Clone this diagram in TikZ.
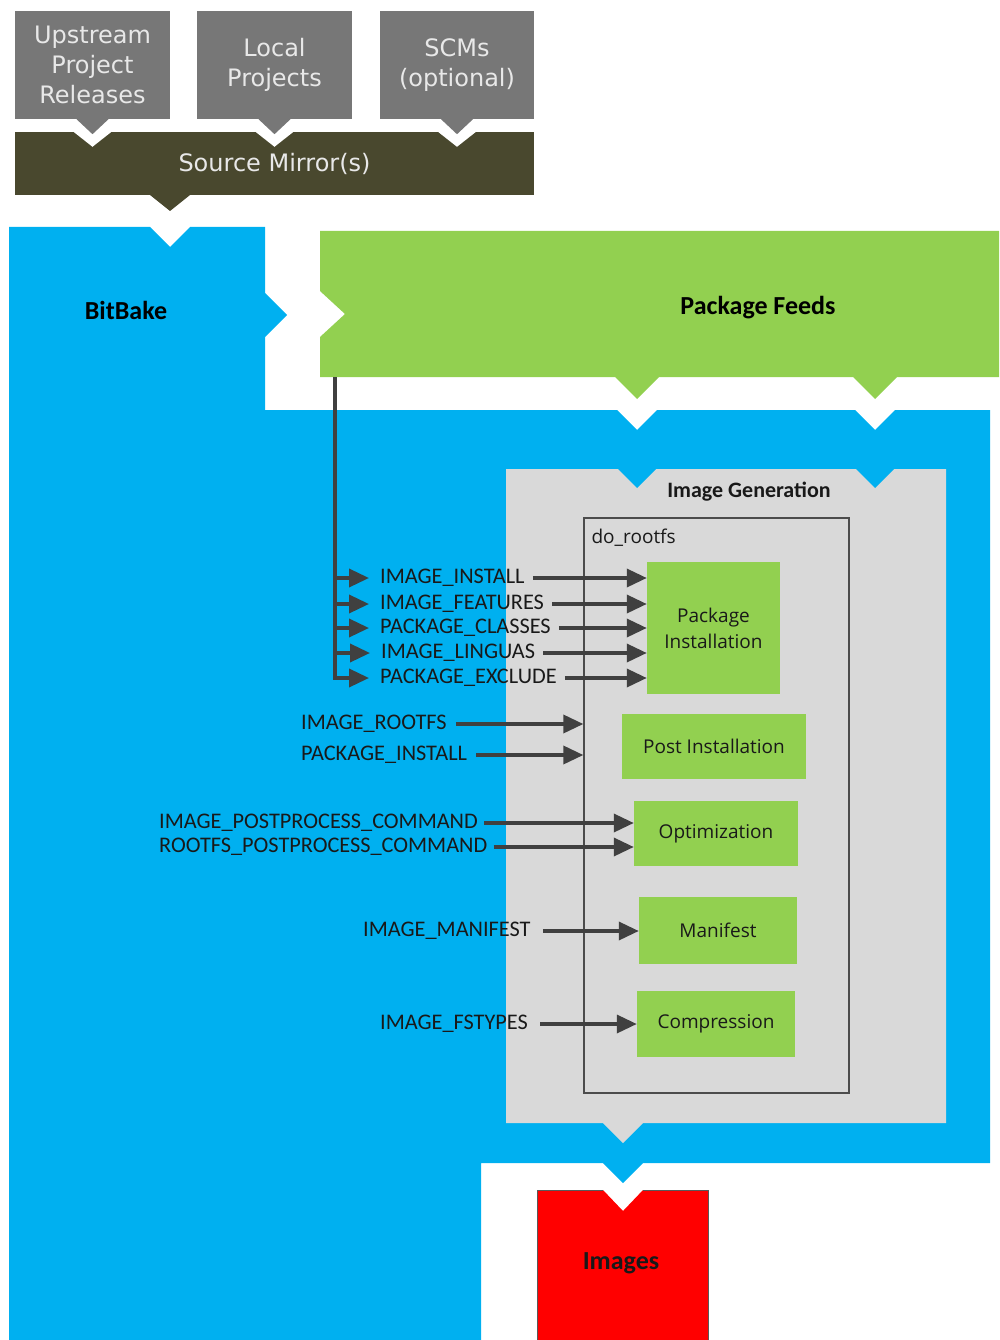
\documentclass[tikz,border=0pt]{standalone}
\usepackage{fontspec}
\setmainfont{Carlito}
\newfontfamily\topfont{DejaVu Sans}
\newfontfamily\taskfont{Open Sans}
\usetikzlibrary{arrows.meta}
\definecolor{srcgray}{RGB}{119,119,119}
\definecolor{mirror}{RGB}{73,72,46}
\definecolor{bbblue}{RGB}{0,176,240}
\definecolor{feedgreen}{RGB}{146,208,80}
\definecolor{gengray}{RGB}{217,217,217}
\definecolor{arrowgray}{RGB}{64,64,64}
\definecolor{softwhite}{RGB}{232,232,232}
\begin{document}
\begin{tikzpicture}[x=1pt, y=-1pt,
        srcbox/.style={rectangle, fill=srcgray, minimum width=155pt, minimum height=108pt, align=center, text=softwhite, font=\topfont\fontsize{24}{30}\selectfont},
        taskbox/.style={rectangle, fill=feedgreen, align=center, text=black!90, font=\taskfont\fontsize{19}{26}\selectfont},
        varlabel/.style={anchor=west, inner xsep=0pt, inner ysep=1pt, text=black!90, font=\fontsize{22.3}{24}\selectfont},
        headline/.style={font=\bfseries\fontsize{26}{30}\selectfont},
        varrow/.style={-{Triangle[length=20pt,width=18pt]}, line width=3.5pt, draw=arrowgray}
    ]
        \useasboundingbox (0,0) rectangle (999,1340);

        % BitBake area
        \fill[bbblue] (9,227) -- (150,227) -- (170,247) -- (190,227) -- (265,227) -- (265,293) -- (287,315) -- (265,337)
            -- (265,410) -- (617,410) -- (637,430) -- (657,410) -- (855,410) -- (875,430) -- (895,410) -- (990,410)
            -- (990,1163) -- (643,1163) -- (623,1183) -- (603,1163) -- (481,1163) -- (481,1340) -- (9,1340) -- cycle;
        \node[headline] (bitbake) at (126,310) {BitBake};

        % package feeds
        \fill[feedgreen] (320,231) -- (999,231) -- (999,377) -- (897,377) -- (875,399) -- (853,377) -- (659,377)
            -- (637,399) -- (615,377) -- (320,377) -- (320,337) -- (345,314) -- (320,291) -- cycle;
        \node[headline] (feeds) at (758,308) {Package Feeds};
        \coordinate (feedtap) at (335,377);

        % sources
        \node[srcbox] (upstream) at (92.5,65) {Upstream\\Project\\Releases};
        \node[srcbox] (local) at (274.5,65) {Local\\Projects};
        \node[srcbox, minimum width=154pt] (scm) at (457,65) {SCMs\\(optional)};
        \node[rectangle, fill=mirror, minimum width=519pt, minimum height=63pt, text=softwhite,
            font=\topfont\fontsize{24}{30}\selectfont] (mirrors) at (274.5,163.5) {Source Mirror(s)};
        \foreach \s in {upstream, local, scm} {
            \fill[white] ([xshift=-19pt]\s.south |- mirrors.north) -- ([yshift=-15pt]\s.south |- mirrors.north)
                -- ([xshift=19pt]\s.south |- mirrors.north) -- cycle;
            \fill[srcgray] ([xshift=-16pt]\s.south) -- ([yshift=-15pt]\s.south) -- ([xshift=16pt]\s.south) -- cycle;
        }
        \fill[mirror] (150,195) -- (170,211) -- (190,195) -- cycle;

        % image generation
        \fill[gengray] (506,469) -- (946,469) -- (946,1123) -- (643,1123) -- (623,1143) -- (603,1123) -- (506,1123) -- cycle;
        \fill[bbblue] (618,469) -- (637,488) -- (656,469) -- cycle;
        \fill[bbblue] (856,469) -- (875,488) -- (894,469) -- cycle;
        \node[font=\bfseries\fontsize{22}{26}\selectfont, text=black!90] (imagegen) at (749,492) {Image Generation};

        \node[rectangle, draw=black!70, line width=1.3pt, minimum width=265pt, minimum height=575pt] (rootfs) at (716.5,805.5) {};
        \node[anchor=west, text=black!90, font=\taskfont\fontsize{19}{24}\selectfont] (rootfslabel) at (588,538) {do\_rootfs};

        \node[taskbox, minimum width=133pt, minimum height=132pt] (pkg) at (713.5,628) {Package\\Installation};
        \node[taskbox, minimum width=184pt, minimum height=65pt] (post) at (714,746.5) {Post Installation};
        \node[taskbox, minimum width=164pt, minimum height=65pt] (opt) at (716,833.5) {Optimization};
        \node[taskbox, minimum width=158pt, minimum height=67pt] (manifest) at (718,930.5) {Manifest};
        \node[taskbox, minimum width=158pt, minimum height=66pt] (compress) at (716,1024) {Compression};

        % variables
        \node[varlabel] (install) at (380,578) {IMAGE\_INSTALL};
        \node[varlabel] (features) at (380,604) {IMAGE\_FEATURES};
        \node[varlabel] (classes) at (380,628) {PACKAGE\_CLASSES};
        \node[varlabel] (linguas) at (381,653) {IMAGE\_LINGUAS};
        \node[varlabel] (exclude) at (380,678) {PACKAGE\_EXCLUDE};
        \node[varlabel] (rootfsvar) at (301,724) {IMAGE\_ROOTFS};
        \node[varlabel] (pkginstall) at (301,755) {PACKAGE\_INSTALL};
        \node[varlabel] (imgpost) at (159,823) {IMAGE\_POSTPROCESS\_COMMAND};
        \node[varlabel] (rootfspost) at (159,847) {ROOTFS\_POSTPROCESS\_COMMAND};
        \node[varlabel] (manifestvar) at (363,931) {IMAGE\_MANIFEST};
        \node[varlabel] (fstypes) at (380,1024) {IMAGE\_FSTYPES};

        \draw[varrow] (feedtap) |- ([xshift=-11pt]exclude.west);
        \foreach \v in {install, features, classes, linguas}
            \draw[varrow] (\v.west -| feedtap) -- ([xshift=-11pt]\v.west);
        \foreach \v in {install, features, classes, linguas, exclude}
            \draw[varrow] ([xshift=8pt]\v.east) -- (\v.east -| pkg.west);
        \foreach \v in {rootfsvar, pkginstall}
            \draw[varrow] ([xshift=9pt]\v.east) -- (\v.east -| rootfs.west);
        \foreach \v in {imgpost, rootfspost}
            \draw[varrow] ([xshift=6pt]\v.east) -- (\v.east -| opt.west);
        \draw[varrow] ([xshift=12pt]manifestvar.east) -- (manifestvar.east -| manifest.west);
        \draw[varrow] ([xshift=12pt]fstypes.east) -- (fstypes.east -| compress.west);

        % images
        \fill[red] (537,1190) -- (603,1190) -- (623,1211) -- (643,1190) -- (708,1190) -- (708,1340) -- (537,1340) -- cycle;
        \draw[black!65, line width=1pt] (603,1190) -- (537,1190) -- (537,1340) (643,1190) -- (708,1190) -- (708,1340);
        \node[headline, text=black!90] (images) at (621,1263) {Images};
    \end{tikzpicture}
\end{document}
